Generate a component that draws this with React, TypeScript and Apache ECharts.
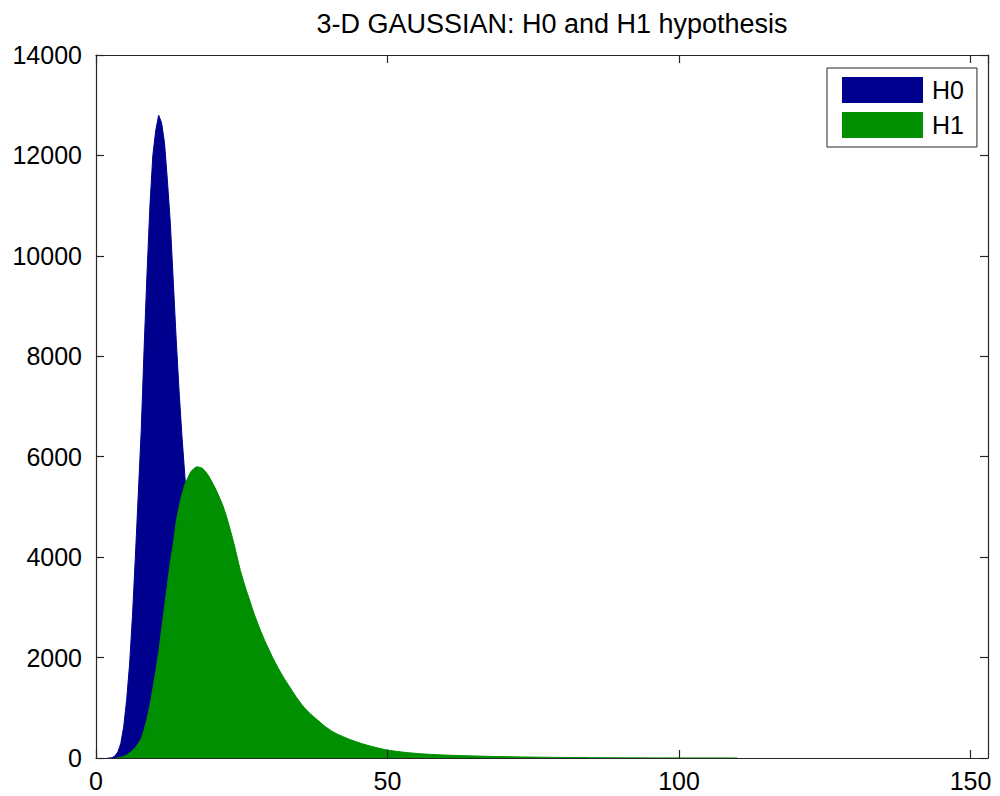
import React, { useEffect, useRef } from "react";
import * as echarts from "echarts";

// H0 histogram: bins of width 0.5 starting at 2.0
const h0Start = 2.0;
const h0Width = 0.5;
const h0Counts = [
  0, 5, 40, 120, 290, 620, 1150, 1850, 2820, 4000, 5250, 6500, 8150, 9650, 11000, 12000,
  12500, 12800, 12650, 12250, 11500, 10650, 9500, 8350, 7300, 6400, 5600, 4900, 4250, 3650,
  3100, 2600, 2200, 1850, 1550, 1250, 1000, 800, 640, 500, 390, 300, 230, 175, 130, 95, 70,
  50, 35, 25, 18, 12, 8, 5, 3, 2,
];

// H1 histogram in three segments (fine / mid / coarse bins)
const h1FineStart = 3.5;
const h1FineWidth = 0.5;
const h1FineCounts = [
  5, 15, 30, 60, 100, 150, 210, 290, 380, 560, 780, 1050, 1380, 1720, 2100, 2550, 3000, 3450,
  3900, 4250, 4700, 5000, 5250, 5450, 5580, 5700, 5760, 5800, 5790, 5770, 5710, 5630, 5530,
  5420, 5300, 5170, 5030, 4860, 4660, 4450, 4230, 3980, 3740, 3540, 3350, 3180, 3000, 2830,
  2680, 2530, 2390, 2260, 2140, 2010, 1900, 1790, 1690, 1590, 1500, 1410, 1320, 1230, 1150,
  1070, 1000, 940, 880, 830, 780, 730, 680, 630, 590, 550, 515,
];
const h1MidStart = 41;
const h1MidWidth = 1;
const h1MidCounts = [
  470, 420, 370, 330, 290, 255, 225, 195, 170, 150, 132, 118, 106, 96, 87, 79, 72, 66, 60,
];
const h1CoarseStart = 60;
const h1CoarseWidth = 2;
const h1CoarseCounts = [
  54, 46, 40, 34, 29, 25, 21, 18, 15, 12, 10, 8, 6, 5, 4, 3, 3, 2, 2, 2, 1, 1, 1, 1, 1,
];

const xTicks = [0, 50, 100, 150];
const yTicks = [0, 2000, 4000, 6000, 8000, 10000, 12000, 14000];
const seriesNames = ["H0", "H1"];
const titleText = "3-D GAUSSIAN: H0 and H1 hypothesis";

// points at bin centres
function toPoints(start: number, width: number, counts: number[]) {
  return counts.map((c, i) => [start + (i + 0.5) * width, c]);
}

const h0Data = [
  [h0Start, 0],
  ...toPoints(h0Start, h0Width, h0Counts),
  [h0Start + h0Counts.length * h0Width, 0],
];
const h1Data = [
  [h1FineStart, 0],
  ...toPoints(h1FineStart, h1FineWidth, h1FineCounts),
  ...toPoints(h1MidStart, h1MidWidth, h1MidCounts),
  ...toPoints(h1CoarseStart, h1CoarseWidth, h1CoarseCounts),
  [h1CoarseStart + h1CoarseCounts.length * h1CoarseWidth, 0],
];

const BLUE = "#00008f";
const GREEN = "#008f00";
const AXIS = "#262626";
const FONT = "Liberation Sans, Arial, sans-serif";

export default function App() {
  const ref = useRef<HTMLDivElement>(null);
  useEffect(() => {
    if (!ref.current) return;
    const chart = echarts.init(ref.current, undefined, { renderer: "svg" });
    const axisCommon = {
      axisLine: { show: true, onZero: false, lineStyle: { color: AXIS, width: 1.2 } },
      axisTick: { show: true, inside: true, length: 8, lineStyle: { color: AXIS, width: 1.2 } },
      splitLine: { show: false },
      z: 10,
    };
    chart.setOption({
      animation: false,
      backgroundColor: "#ffffff",
      title: {
        text: titleText,
        left: 547,
        textAlign: "center",
        top: 5,
        textStyle: { fontFamily: FONT, fontSize: 27, fontWeight: "normal", color: "#000" },
      },
      legend: {
        data: seriesNames,
        orient: "vertical",
        left: 827,
        top: 68,
        icon: "rect",
        itemWidth: 81,
        itemHeight: 26,
        itemGap: 9,
        padding: [9, 13, 9, 15],
        borderColor: AXIS,
        borderWidth: 1,
        backgroundColor: "#ffffff",
        textStyle: { fontFamily: FONT, fontSize: 25, color: "#000", padding: [0, 0, 0, 4] },
      },
      grid: { left: 96, right: 12, top: 55, bottom: 38, containLabel: false },
      xAxis: [
        {
          type: "value",
          min: xTicks[0],
          max: 153,
          interval: xTicks[1] - xTicks[0],
          position: "bottom",
          ...axisCommon,
          axisLabel: {
            showMaxLabel: false,
            margin: 10,
            fontFamily: FONT,
            fontSize: 25,
            color: "#000",
          },
        },
        {
          type: "value",
          min: xTicks[0],
          max: 153,
          interval: xTicks[1] - xTicks[0],
          position: "top",
          ...axisCommon,
          axisLabel: { show: false },
        },
      ],
      yAxis: [
        {
          type: "value",
          min: yTicks[0],
          max: yTicks[yTicks.length - 1],
          interval: yTicks[1] - yTicks[0],
          position: "left",
          ...axisCommon,
          axisLabel: {
            margin: 14,
            fontFamily: FONT,
            fontSize: 25,
            color: "#000",
            formatter: (v: number) => String(v),
          },
        },
        {
          type: "value",
          min: yTicks[0],
          max: yTicks[yTicks.length - 1],
          interval: yTicks[1] - yTicks[0],
          position: "right",
          ...axisCommon,
          axisLabel: { show: false },
        },
      ],
      series: [
        {
          name: seriesNames[0],
          type: "line",
          xAxisIndex: 0,
          yAxisIndex: 0,
          data: h0Data,
          symbol: "none",
          showSymbol: false,
          itemStyle: { color: BLUE },
          lineStyle: { color: BLUE, width: 1 },
          areaStyle: { color: BLUE, opacity: 1 },
          z: 2,
        },
        {
          name: seriesNames[1],
          type: "line",
          xAxisIndex: 0,
          yAxisIndex: 0,
          data: h1Data,
          symbol: "none",
          showSymbol: false,
          itemStyle: { color: GREEN },
          lineStyle: { color: GREEN, width: 1 },
          areaStyle: { color: GREEN, opacity: 1 },
          z: 3,
        },
      ],
    });
    return () => chart.dispose();
  }, []);
  return (
    <div
      ref={ref}
      style={{ position: "fixed", left: 0, top: 0, width: 1000, height: 796, background: "#fff" }}
    />
  );
}
